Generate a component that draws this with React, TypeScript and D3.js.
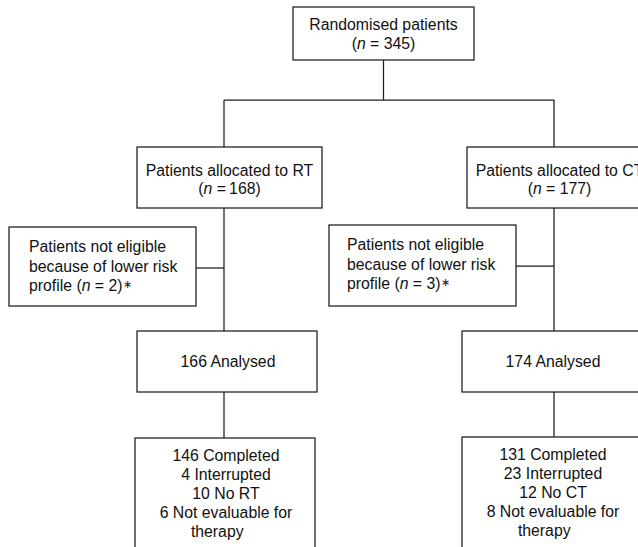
import React from "react";
import * as d3 from "d3";

// ---- data ----
const arms = ["RT", "CT"];
const totalRandomised = 345;
const allocated = [168, 177];
const notEligible = [2, 3];
const analysed = [166, 174];
const completed = [146, 131];
const interrupted = [4, 23];
const noTherapy = [10, 12];
const notEvaluable = [6, 8];

// ---- layout ----
const W = 638;
const H = 547;
const FONT = "'Liberation Sans', Arial, Helvetica, sans-serif";
const FS = 15.8;
const STROKE = "#1c1c1c";
const SW = 1.25;

const armX = d3.scalePoint<string>().domain(arms).range([224, 554]);

const topBox = { x: 293, y: 7, w: 181, h: 53 };
const splitY = 100;
const allocBox = { dx: -87, w: 185, y: 147, h: 61 };
const neBoxLeft = [9, 329];
const neBox = { w: 187, y: [227, 225], h: [79, 81], connY: [268, 266] };
const anBox = { dx: [-87, -92], w: 180, y: 331, h: 61 };
const finBox = { dx: [-89, -92], w: 180, y: [438, 437], h: 140 };

type Seg = { t: string; i?: boolean; s?: number; dy?: number };

function renderLine(line: Seg[]) {
  return line.map((s, k) => (
    <tspan key={k} fontStyle={s.i ? "italic" : undefined} fontSize={s.s} dy={s.dy}>
      {s.t}
    </tspan>
  ));
}

function TextBlock({ x, y, lh, lines, anchor = "middle" }: { x: number; y: number; lh: number; lines: Seg[][]; anchor?: string }) {
  return (
    <g fontFamily={FONT} fontSize={FS} fill="#111" textAnchor={anchor}>
      {lines.map((ln, i) => (
        <text key={i} x={x} y={y + i * lh} xmlSpace="preserve">
          {renderLine(ln)}
        </text>
      ))}
    </g>
  );
}

function Box({ x, y, w, h }: { x: number; y: number; w: number; h: number }) {
  return <rect x={x} y={y} width={w} height={h} fill="#fff" stroke={STROKE} strokeWidth={SW} />;
}

function Line({ x1, y1, x2, y2 }: { x1: number; y1: number; x2: number; y2: number }) {
  return <line x1={x1} y1={y1} x2={x2} y2={y2} stroke={STROKE} strokeWidth={SW} />;
}

export default function App() {
  const topCx = topBox.x + topBox.w / 2;
  return (
    <svg width={W} height={H} style={{ position: "absolute", left: 0, top: 0, background: "#fff" }}>
      {/* connectors */}
      <Line x1={topCx} y1={topBox.y + topBox.h} x2={topCx} y2={splitY} />
      <Line x1={armX(arms[0])!} y1={splitY} x2={armX(arms[1])!} y2={splitY} />
      {arms.map((a, i) => {
        const cx = armX(a)!;
        return (
          <g key={"c" + a}>
            <Line x1={cx} y1={splitY} x2={cx} y2={allocBox.y} />
            <Line x1={cx} y1={allocBox.y + allocBox.h} x2={cx} y2={anBox.y} />
            <Line x1={neBoxLeft[i] + neBox.w} y1={neBox.connY[i]} x2={cx} y2={neBox.connY[i]} />
            <Line x1={cx} y1={anBox.y + anBox.h} x2={cx} y2={finBox.y[i]} />
          </g>
        );
      })}

      {/* top box */}
      <Box {...topBox} />
      <TextBlock
        x={topCx}
        y={topBox.y + 23}
        lh={19}
        lines={[
          [{ t: "Randomised patients" }],
          [{ t: "(" }, { t: "n", i: true }, { t: " = " + totalRandomised + ")" }],
        ]}
      />

      {arms.map((a, i) => {
        const cx = armX(a)!;
        const ax = cx + allocBox.dx;
        const nx = neBoxLeft[i];
        const anx = cx + anBox.dx[i];
        const fx = cx + finBox.dx[i];
        return (
          <g key={a}>
            <Box x={ax} y={allocBox.y} w={allocBox.w} h={allocBox.h} />
            <TextBlock
              x={ax + allocBox.w / 2}
              y={allocBox.y + 28.5}
              lh={18.5}
              lines={[
                [{ t: "Patients allocated to " + a }],
                [{ t: "(" }, { t: "n", i: true }, { t: (i === 0 ? " =\u2009" : " = ") + allocated[i] + ")" }],
              ]}
            />

            <Box x={nx} y={neBox.y[i]} w={neBox.w} h={neBox.h[i]} />
            <TextBlock
              x={nx + (i === 0 ? 20 : 18)}
              y={neBox.y[i] + 25}
              lh={19.7}
              anchor="start"
              lines={[
                [{ t: "Patients not eligible" }],
                [{ t: "because of lower risk" }],
                [{ t: "profile (" }, { t: "n", i: true }, { t: " = " + notEligible[i] + ")" }, { t: "\u2217", s: 11, dy: -3 }],
              ]}
            />

            <Box x={anx} y={anBox.y} w={anBox.w} h={anBox.h} />
            <TextBlock
              x={anx + anBox.w / 2 + 1}
              y={anBox.y + 36}
              lh={19}
              lines={[[{ t: analysed[i] + " Analysed" }]]}
            />

            <Box x={fx} y={finBox.y[i]} w={finBox.w} h={finBox.h} />
            <TextBlock
              x={fx + finBox.w / 2 + 1}
              y={finBox.y[i] + 23}
              lh={19}
              lines={[
                [{ t: completed[i] + " Completed" }],
                [{ t: interrupted[i] + " Interrupted" }],
                [{ t: noTherapy[i] + " No " + a }],
                [{ t: notEvaluable[i] + " Not evaluable for" }],
                [{ t: "therapy\u00a0\u00a0\u00a0\u00a0" }],
              ]}
            />
          </g>
        );
      })}
    </svg>
  );
}
